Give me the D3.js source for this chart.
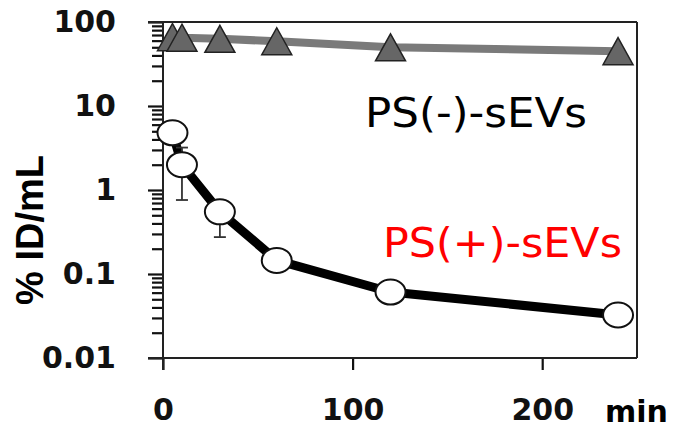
<!DOCTYPE html>
<html>
<head>
<meta charset="utf-8">
<script src="https://cdn.jsdelivr.net/npm/d3@7"></script>
<style>
  body { margin: 0; background: #fff; }
  svg { display: block; }
</style>
</head>
<body>
<div id="chart"></div>
<script>
// sampling times (min)
const times = [5, 10, 30, 60, 120, 240];
// PS(-)-sEVs, % ID/mL
const psNeg = [66, 65, 63, 59, 50, 45];
// PS(+)-sEVs, % ID/mL
const psPos = [4.8, 2.0, 0.55, 0.145, 0.061, 0.0325];
// error bar ends (null = none shown)
const psPosLow = [null, 0.76, 0.275, null, null, null];
const psPosHigh = [null, 3.2, null, null, null, null];

const yTicks = [0.01, 0.1, 1, 10, 100];
const yTickLabels = ['0.01', '0.1', '1', '10', '100'];
const xTicks = [0, 100, 200];

const W = 683, H = 434;
const plot = {left: 163, right: 637, top: 22, bottom: 358};

const svg = d3.select('#chart').append('svg')
    .attr('width', W)
    .attr('height', H);

svg.append('rect').attr('width', W).attr('height', H).attr('fill', '#fff');

const x = d3.scaleLinear().domain([0, 250]).range([plot.left, plot.right]);
const y = d3.scaleLog().domain([0.01, 100]).range([plot.bottom, plot.top]);

// minor ticks on log axis
const minorTicks = [];
yTicks.slice(0, -1).forEach(t => {
  for (let k = 2; k <= 9; k++) minorTicks.push(t * k);
});

const minorAxis = svg.append('g')
    .attr('transform', `translate(${plot.left},0)`)
    .call(d3.axisLeft(y).tickValues(minorTicks).tickSize(11).tickSizeOuter(0).tickFormat(''));
minorAxis.select('.domain').remove();
minorAxis.selectAll('line').attr('stroke', '#111').attr('stroke-width', 2.2);

const yAxis = svg.append('g')
    .attr('transform', `translate(${plot.left},0)`)
    .call(d3.axisLeft(y).tickValues(yTicks).tickSize(15).tickSizeOuter(0).tickPadding(32)
      .tickFormat((d, i) => yTickLabels[i]));
yAxis.select('.domain').remove();
yAxis.selectAll('line').attr('stroke', '#111').attr('stroke-width', 2.2);
yAxis.selectAll('text')
    .attr('fill', '#111')
    .style('font-family', '"DejaVu Sans", sans-serif')
    .style('font-weight', 'bold')
    .style('font-size', '30px');

const xAxis = svg.append('g')
    .attr('transform', `translate(0,${plot.bottom})`)
    .call(d3.axisBottom(x).tickValues(xTicks).tickSize(12).tickSizeOuter(0).tickPadding(29));
xAxis.select('.domain').remove();
xAxis.selectAll('line').attr('stroke', '#111').attr('stroke-width', 2.2);
xAxis.selectAll('text')
    .attr('fill', '#111')
    .style('font-family', '"DejaVu Sans", sans-serif')
    .style('font-weight', 'bold')
    .style('font-size', '30px');

// frame
const frame = svg.append('g').attr('stroke', '#222').attr('stroke-width', 2).attr('fill', 'none');
frame.append('line').attr('x1', plot.left - 15).attr('x2', plot.right).attr('y1', plot.top).attr('y2', plot.top);
frame.append('line').attr('x1', plot.left - 15).attr('x2', plot.right).attr('y1', plot.bottom).attr('y2', plot.bottom);
frame.append('line').attr('x1', plot.right).attr('x2', plot.right).attr('y1', plot.top).attr('y2', plot.bottom);
frame.append('line').attr('x1', plot.left).attr('x2', plot.left).attr('y1', plot.top).attr('y2', plot.bottom + 12);

// PS(-) series
const line = d3.line().x((d, i) => x(times[i])).y(d => y(d));

svg.append('path')
    .datum(psNeg)
    .attr('d', line)
    .attr('fill', 'none')
    .attr('stroke', '#7a7a7a')
    .attr('stroke-width', 8);

const triW = 30, triH = 27;
svg.selectAll('.tri')
    .data(psNeg)
  .join('path')
    .attr('class', 'tri')
    .attr('transform', (d, i) => `translate(${x(times[i])},${y(d)})`)
    .attr('d', `M0,${-triH / 2}L${triW / 2},${triH / 2}L${-triW / 2},${triH / 2}Z`)
    .attr('fill', '#666')
    .attr('stroke', '#222')
    .attr('stroke-width', 1.5);

// PS(+) series
svg.append('path')
    .datum(psPos)
    .attr('d', line)
    .attr('fill', 'none')
    .attr('stroke', '#000')
    .attr('stroke-width', 9)
    .attr('stroke-linejoin', 'round');

// error bars
const errs = [];
times.forEach((t, i) => {
  if (psPosLow[i] != null) errs.push({t: t, from: psPos[i], to: psPosLow[i]});
  if (psPosHigh[i] != null) errs.push({t: t, from: psPos[i], to: psPosHigh[i]});
});
const eb = svg.append('g').attr('stroke', '#333').attr('stroke-width', 1.8);
eb.selectAll('.eline')
    .data(errs)
  .join('line')
    .attr('x1', d => x(d.t)).attr('x2', d => x(d.t))
    .attr('y1', d => y(d.from)).attr('y2', d => y(d.to));
eb.selectAll('.ecap')
    .data(errs)
  .join('line')
    .attr('x1', d => x(d.t) - 6).attr('x2', d => x(d.t) + 6)
    .attr('y1', d => y(d.to)).attr('y2', d => y(d.to));

svg.selectAll('.circ')
    .data(psPos)
  .join('ellipse')
    .attr('class', 'circ')
    .attr('cx', (d, i) => x(times[i]))
    .attr('cy', d => y(d))
    .attr('rx', 15)
    .attr('ry', 12.5)
    .attr('fill', '#fff')
    .attr('stroke', '#111')
    .attr('stroke-width', 2);

// series labels
svg.append('text')
    .attr('x', 365).attr('y', 127)
    .attr('textLength', 222)
    .attr('lengthAdjust', 'spacingAndGlyphs')
    .attr('fill', '#000')
    .style('font-family', '"DejaVu Sans", sans-serif')
    .style('font-size', '41px')
    .text('PS(-)-sEVs');

svg.append('text')
    .attr('x', 383).attr('y', 257)
    .attr('textLength', 239)
    .attr('lengthAdjust', 'spacingAndGlyphs')
    .attr('fill', '#ff0000')
    .style('font-family', '"DejaVu Sans", sans-serif')
    .style('font-size', '40px')
    .text('PS(+)-sEVs');

// axis titles
svg.append('text')
    .attr('transform', `translate(43,${(plot.top + plot.bottom) / 2 + 40}) rotate(-90)`)
    .attr('text-anchor', 'middle')
    .attr('fill', '#000')
    .style('font-family', '"Liberation Sans", Arial, sans-serif')
    .style('font-weight', 'bold')
    .style('font-size', '38px')
    .text('% ID/mL');

svg.append('text')
    .attr('x', 605).attr('y', 422)
    .attr('fill', '#000')
    .style('font-family', '"DejaVu Sans", sans-serif')
    .style('font-weight', 'bold')
    .style('font-size', '30px')
    .text('min');
</script>
</body>
</html>
